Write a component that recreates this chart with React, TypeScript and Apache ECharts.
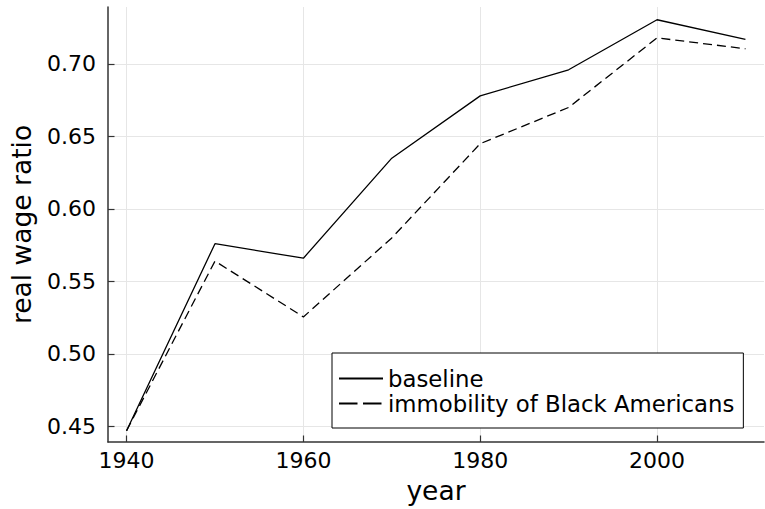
import React, { useEffect, useRef } from "react";
import * as echarts from "echarts";

const years = [1940, 1950, 1960, 1970, 1980, 1990, 2000, 2010];
const baseline = [0.447, 0.576, 0.566, 0.635, 0.678, 0.696, 0.7305, 0.717];
const immobility = [0.447, 0.564, 0.5255, 0.58, 0.645, 0.67, 0.718, 0.7105];
const xTicks = [1940, 1960, 1980, 2000];
const yTicks = [0.45, 0.5, 0.55, 0.6, 0.65, 0.7];
const seriesNames = ["baseline", "immobility of Black Americans"];

const FONT = "DejaVu Sans";

export default function App() {
  const ref = useRef<HTMLDivElement>(null);
  useEffect(() => {
    if (!ref.current) return;
    const chart = echarts.init(ref.current, null, { renderer: "svg" });
    chart.setOption({
      animation: false,
      backgroundColor: "#ffffff",
      textStyle: { fontFamily: FONT },
      grid: { left: 106, right: 1, top: 7, bottom: 66, containLabel: false },
      legend: {
        orient: "vertical",
        left: 332,
        top: 353,
        padding: [14, 9, 13, 6],
        borderColor: "#000",
        borderWidth: 1,
        borderRadius: 0,
        backgroundColor: "#fff",
        itemWidth: 44,
        itemHeight: 22,
        itemGap: 2,
        itemStyle: { opacity: 0 },
        textStyle: { fontSize: 22.8, color: "#000", fontFamily: FONT },
        data: [
          { name: seriesNames[0] },
          { name: seriesNames[1], lineStyle: { type: [18.5, 5.5] } },
        ],
      },
      xAxis: {
        type: "value",
        min: 1937.9,
        max: 2012.1,
        name: "year",
        nameLocation: "middle",
        nameGap: 35,
        nameTextStyle: { fontSize: 26.5, color: "#000", fontFamily: FONT },
        axisLine: { show: true, onZero: false, lineStyle: { color: "#333", width: 1.5 } },
        axisTick: { show: true, inside: true, length: 6.5, customValues: xTicks, lineStyle: { color: "#333", width: 1.2 } },
        axisLabel: { customValues: xTicks, margin: 7, fontSize: 22, color: "#000", fontFamily: FONT, formatter: (v: number) => String(v) },
        splitLine: { show: true, customValues: xTicks, lineStyle: { color: "#e6e6e6", width: 1 } },
      },
      yAxis: {
        type: "value",
        min: 0.4392,
        max: 0.7393,
        name: "real wage ratio",
        nameLocation: "middle",
        nameGap: 73,
        nameTextStyle: { fontSize: 26.5, color: "#000", fontFamily: FONT },
        axisLine: { show: true, onZero: false, lineStyle: { color: "#333", width: 1.5 } },
        axisTick: { show: true, inside: true, length: 6.5, customValues: yTicks, lineStyle: { color: "#333", width: 1.2 } },
        axisLabel: { customValues: yTicks, margin: 12, fontSize: 22, color: "#000", fontFamily: FONT, formatter: (v: number) => v.toFixed(2) },
        splitLine: { show: true, customValues: yTicks, lineStyle: { color: "#e6e6e6", width: 1 } },
      },
      series: [
        {
          name: seriesNames[0],
          type: "line",
          data: years.map((y, i) => [y, baseline[i]]),
          symbol: "none",
          lineStyle: { color: "#000", width: 1.3, type: "solid" },
          itemStyle: { color: "#000" },
        },
        {
          name: seriesNames[1],
          type: "line",
          data: years.map((y, i) => [y, immobility[i]]),
          symbol: "none",
          lineStyle: { color: "#000", width: 1.3, type: [9, 5] },
          itemStyle: { color: "#000" },
        },
      ],
    });
    return () => chart.dispose();
  }, []);
  return <div ref={ref} style={{ width: 765, height: 509, position: "absolute", left: 0, top: 0 }} />;
}
